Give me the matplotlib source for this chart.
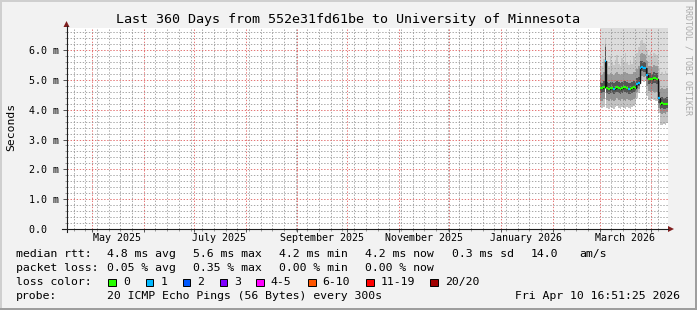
import matplotlib
matplotlib.use("Agg")
import matplotlib.pyplot as plt
import matplotlib.dates as mdates
from matplotlib.patches import Rectangle, Polygon
from matplotlib.lines import Line2D
from matplotlib.ticker import MultipleLocator, NullFormatter
from datetime import datetime, timedelta

plt.rcParams["font.family"] = ["DejaVu Sans Mono", "DejaVu Sans"]
plt.rcParams["lines.scale_dashes"] = False

# ---------------- data ----------------
title = "Last 360 Days from 552e31fd61be to University of Minnesota"
t_end = datetime(2026, 4, 10, 16, 51, 25)
t_start = t_end - timedelta(days=360)

first_bin = datetime(2026, 3, 1)   # daily bins Mar 1 .. Apr 10 2026

median_ms = [4.74, 4.72, 4.75, 5.62, 4.73, 4.70, 4.74, 4.72, 4.70, 4.74,
             4.76, 4.73, 4.71, 4.72, 4.75, 4.77, 4.74, 4.71, 4.70, 4.73,
             4.75, 4.74, 4.86, 4.90, 5.41, 5.42, 5.41, 5.40, 5.17, 5.03,
             5.04, 5.02, 5.07, 5.05, 5.03, 4.38, 4.20, 4.21, 4.19, 4.20, 4.20]
loss_pings = [0, 0, 0, 1, 0, 0, 0, 0, 1, 0,
              0, 0, 0, 0, 0, 0, 0, 1, 0, 0,
              0, 0, 1, 1, 1, 1, 1, 1, 1, 0,
              0, 0, 0, 0, 0, 1, 0, 0, 0, 0, 0]
lo_ms = [4.08, 4.05, 4.10, 4.68, 4.06, 4.04, 4.10, 4.07, 4.03, 4.08,
         4.12, 4.05, 4.02, 4.09, 4.07, 4.04, 4.10, 4.06, 4.03, 4.08,
         4.11, 4.20, 4.40, 4.55, 4.95, 4.97, 4.93, 4.96, 4.45, 4.33,
         4.30, 4.35, 4.32, 4.28, 4.30, 3.90, 3.50, 3.48, 3.52, 3.50, 3.55]
p10_ms = [4.34, 4.30, 4.36, 4.72, 4.33, 4.29, 4.35, 4.32, 4.28, 4.34,
          4.38, 4.31, 4.28, 4.35, 4.33, 4.30, 4.36, 4.32, 4.29, 4.34,
          4.37, 4.42, 4.58, 4.68, 5.12, 5.14, 5.10, 5.13, 4.80, 4.62,
          4.60, 4.64, 4.61, 4.58, 4.60, 4.05, 3.88, 3.85, 3.90, 3.87, 3.92]
p25_ms = [4.57, 4.55, 4.58, 4.76, 4.56, 4.53, 4.57, 4.55, 4.52, 4.57,
          4.60, 4.56, 4.53, 4.56, 4.58, 4.60, 4.57, 4.54, 4.53, 4.56,
          4.59, 4.60, 4.72, 4.78, 5.28, 5.30, 5.27, 5.28, 5.02, 4.86,
          4.88, 4.85, 4.90, 4.88, 4.86, 4.22, 4.04, 4.05, 4.02, 4.04, 4.05]
p75_ms = [4.93, 4.91, 4.95, 6.10, 4.92, 4.89, 4.94, 4.92, 4.90, 4.93,
          4.96, 4.92, 4.90, 4.92, 4.95, 4.97, 4.93, 4.91, 4.90, 4.93,
          4.95, 4.94, 5.05, 5.10, 5.62, 5.64, 5.61, 5.60, 5.40, 5.22,
          5.24, 5.21, 5.26, 5.24, 5.22, 4.60, 4.40, 4.42, 4.38, 4.40, 4.41]
p90_ms = [5.22, 5.18, 5.25, 6.20, 5.20, 5.15, 5.24, 5.21, 5.17, 5.23,
          5.27, 5.20, 5.16, 5.21, 5.25, 5.28, 5.22, 5.19, 5.16, 5.21,
          5.26, 5.25, 5.35, 5.45, 5.88, 5.90, 5.86, 5.85, 5.62, 5.45,
          5.48, 5.44, 5.50, 5.47, 5.45, 4.95, 4.70, 4.72, 4.68, 4.70, 4.72]
p95_ms = [5.55, 5.48, 5.70, 6.40, 5.62, 5.45, 5.80, 5.58, 5.50, 5.66,
          5.85, 5.52, 5.47, 5.74, 5.60, 5.90, 5.56, 5.50, 5.68, 5.53,
          5.78, 5.64, 5.90, 6.10, 6.30, 6.35, 6.25, 6.20, 6.00, 5.85,
          5.95, 5.80, 5.90, 5.88, 5.82, 5.40, 5.20, 5.25, 5.15, 5.30, 5.22]
hi_ms = [7.3, 7.1, 7.4, 7.8, 7.2, 7.0, 7.3, 7.2, 7.1, 7.4,
         7.5, 7.2, 7.0, 7.3, 7.2, 7.4, 7.1, 7.0, 7.3, 7.2,
         7.4, 7.3, 7.5, 7.6, 7.9, 7.8, 7.7, 7.6, 7.5, 7.3,
         7.4, 7.2, 7.3, 7.4, 7.2, 7.0, 6.9, 7.0, 6.9, 7.1, 7.0]

y_ticks = [0, 1, 2, 3, 4, 5, 6]
y_tick_labels = ["0.0  ", "1.0 m", "2.0 m", "3.0 m", "4.0 m", "5.0 m", "6.0 m"]
label_months = [(2025, 5), (2025, 7), (2025, 9), (2025, 11), (2026, 1), (2026, 3)]

loss_levels = ["0", "1", "2", "3", "4-5", "6-10", "11-19", "20/20"]
loss_colors = ["#26ff00", "#00b8ff", "#0059ff", "#7e00ff",
               "#ff00ff", "#ff5500", "#ff0000", "#a10000"]

rtt_stats = ["4.8 ms avg", "5.6 ms max", "4.2 ms min", "4.2 ms now", "0.3 ms sd", "14.0", "am/s"]
loss_stats = ["0.05 % avg", "0.35 % max", "0.00 % min", "0.00 % now"]
probe_text = "20 ICMP Echo Pings (56 Bytes) every 300s"
stamp_text = "Fri Apr 10 16:51:25 2026"

# ---------------- layout ----------------
W, H = 697, 310
fig = plt.figure(figsize=(W / 100, H / 100), dpi=100, facecolor="#f2f2f2")

def fx(px):
    return px / W

def fy(py):
    return 1 - py / H

ax_l, ax_r, ax_t, ax_b = 66.5, 667.5, 28.0, 229.0
ax = fig.add_axes([fx(ax_l), fy(ax_b), (ax_r - ax_l) / W, (ax_b - ax_t) / H])
ax.set_facecolor("white")
for s in ax.spines.values():
    s.set_visible(False)

x0, x1 = mdates.date2num(t_start), mdates.date2num(t_end)
ax.set_xlim(x0, x1)
ax.set_ylim(0, 6.74)

edges = [mdates.date2num(first_bin + timedelta(days=i)) for i in range(len(median_ms) + 1)]

# smoke bands
bands = [(lo_ms, p10_ms, "#c4c4c4"), (p10_ms, p25_ms, "#939393"),
         (p25_ms, median_ms, "#555555"), (median_ms, p75_ms, "#555555"),
         (p75_ms, p90_ms, "#9a9a9a"), (p90_ms, p95_ms, "#c6c6c6"),
         (p95_ms, hi_ms, "#dcdcdc")]
for lower, upper, col in bands:
    ax.stairs(upper, edges, baseline=lower, fill=True, color=col, lw=0, zorder=1)

# grid
ax.xaxis.set_major_locator(mdates.MonthLocator())
ax.xaxis.set_minor_locator(mdates.WeekdayLocator(byweekday=mdates.SU))
ax.xaxis.set_major_formatter(NullFormatter())
ax.set_yticks(y_ticks)
ax.set_yticklabels(y_tick_labels)
ax.yaxis.set_minor_locator(MultipleLocator(0.2))
ax.set_axisbelow(False)
ax.grid(which="minor", color=(0.56, 0.56, 0.56, 0.45), lw=0.55, ls=(0, (1.0, 1.2)))
ax.grid(which="major", color=(0.87, 0.31, 0.31, 0.5), lw=0.55, ls=(0, (1.0, 1.2)))

ax.tick_params(which="major", axis="y", length=3, width=0.7, color="#555555",
               pad=2.2, labelsize=7.2, direction="out")
ax.tick_params(which="minor", axis="y", length=1.5, width=0.7, color="#999999", direction="out")
ax.tick_params(which="major", axis="x", length=2.5, width=0.7, color="#555555", direction="out")
ax.tick_params(which="minor", axis="x", length=1.5, width=0.7, color="#999999", direction="out")

# median line: dark steps, coloured by loss
ax.stairs(median_ms, edges, baseline=None, color="#111111", lw=1.0, zorder=3)
seg_cols = [loss_colors[min(l, 7)] for l in loss_pings]
ax.hlines(median_ms, edges[:-1], edges[1:], colors=seg_cols, lw=1.6, zorder=4)

# month labels (centred mid-month)
for (yy, mm) in label_months:
    d = datetime(yy, mm, 1)
    ax.text(mdates.date2num(d + timedelta(days=15)), -0.3, d.strftime("%B %Y"),
            ha="center", va="center", fontsize=7.2, clip_on=False)

# axis lines and arrows
axis_col = "#1f1f1f"
fig.add_artist(Line2D([fx(62), fx(668)], [fy(ax_b), fy(ax_b)], color=axis_col, lw=0.8))
fig.add_artist(Line2D([fx(ax_l), fx(ax_l)], [fy(232), fy(26)], color=axis_col, lw=0.8))
arrow_col = "#801f1f"
fig.add_artist(Polygon([[fx(674), fy(ax_b)], [fx(668), fy(ax_b - 3)], [fx(668), fy(ax_b + 3)]],
                       closed=True, color=arrow_col, lw=0))
fig.add_artist(Polygon([[fx(ax_l), fy(21)], [fx(ax_l - 3), fy(27)], [fx(ax_l + 3), fy(27)]],
                       closed=True, color=arrow_col, lw=0))

# title, axis label, watermark
fig.text(0.5, fy(19), title, ha="center", va="center", fontsize=9.6)
fig.text(fx(11), fy(127), "Seconds", rotation=90, ha="center", va="center", fontsize=8.2)
fig.text(fx(688), fy(60), "RRDTOOL / TOBI OETIKER", rotation=270, ha="center",
         va="center", fontsize=6, color="#aaaaaa")

# legend
fs = 8.25
row_y = [254, 268, 282, 296]
fig.text(fx(16), fy(row_y[0]), "median rtt:", ha="left", va="center", fontsize=fs)
for s, px in zip(rtt_stats, [107.3, 193.3, 279.3, 365, 451.7, 531, 579.3]):
    fig.text(fx(px), fy(row_y[0]), s, ha="left", va="center", fontsize=fs)
fig.text(fx(16), fy(row_y[1]), "packet loss:", ha="left", va="center", fontsize=fs)
for s, px in zip(loss_stats, [107.3, 193.3, 279.3, 365]):
    fig.text(fx(px), fy(row_y[1]), s, ha="left", va="center", fontsize=fs)
fig.text(fx(16), fy(row_y[2]), "loss color:", ha="left", va="center", fontsize=fs)
box_x = [108.3, 145.7, 182.7, 220, 256, 308, 366, 430]
for lab, col, bx in zip(loss_levels, loss_colors, box_x):
    fig.add_artist(Rectangle((fx(bx), fy(row_y[2] + 4)), 7.5 / W, 7.5 / H,
                             facecolor=col, edgecolor="black", lw=0.7))
    fig.text(fx(bx + 14.7), fy(row_y[2]), lab, ha="left", va="center", fontsize=fs)
fig.text(fx(16), fy(row_y[3]), "probe:", ha="left", va="center", fontsize=fs)
fig.text(fx(107.3), fy(row_y[3]), probe_text, ha="left", va="center", fontsize=fs)
fig.text(fx(680), fy(row_y[3]), stamp_text, ha="right", va="center", fontsize=fs)

# frame
fig.add_artist(Rectangle((0, 0), fx(2), 1, color="#cfcfcf", lw=0))
fig.add_artist(Rectangle((0, fy(2)), 1, 2 / H, color="#cfcfcf", lw=0))
fig.add_artist(Rectangle((fx(695), 0), 2 / W, 1, color="#9e9e9e", lw=0))
fig.add_artist(Rectangle((0, 0), 1, 2 / H, color="#9e9e9e", lw=0))

fig.savefig("out.png", dpi=100, facecolor=fig.get_facecolor())
